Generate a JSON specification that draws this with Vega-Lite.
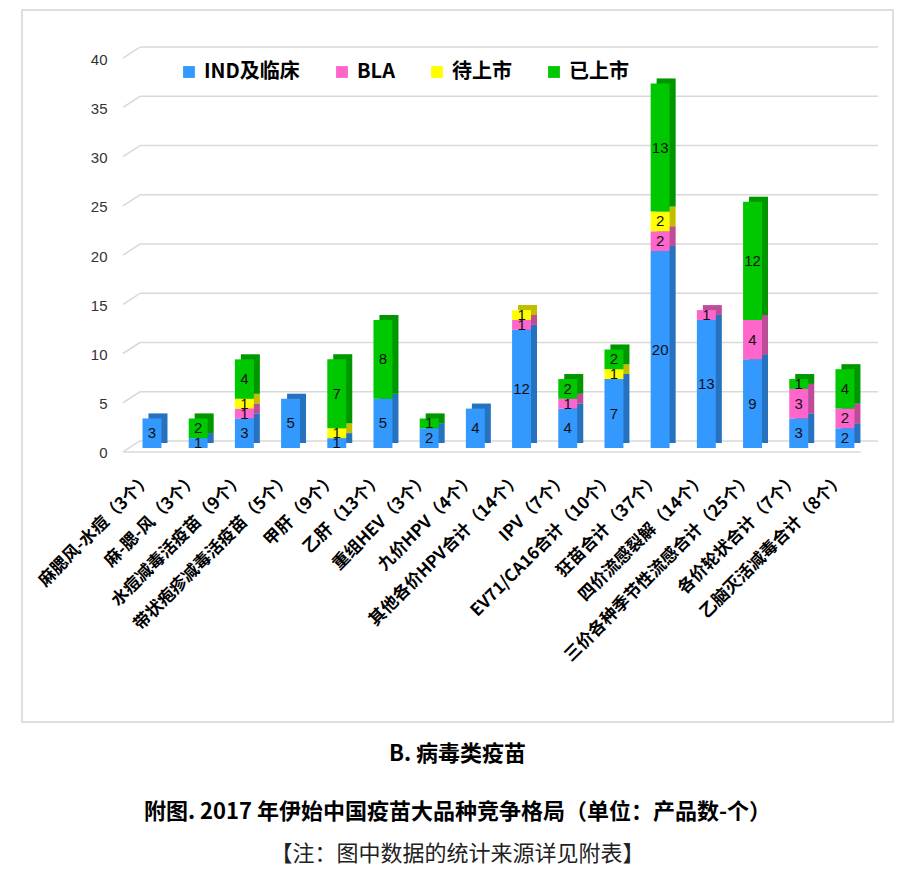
{
  "$schema": "https://vega.github.io/schema/vega-lite/v6.json",
  "width": 871,
  "height": 712,
  "autosize": {"type": "none"},
  "padding": {"left": 22, "top": 10, "right": 20, "bottom": 153},
  "background": "white",
  "config": {
    "view": {"stroke": "#d4d4d4", "strokeWidth": 1.5},
    "font": "Noto Sans CJK SC",
    "legend": {
      "orient": "none",
      "legendX": 157,
      "legendY": 52,
      "direction": "horizontal",
      "symbolType": "square",
      "symbolSize": 140,
      "symbolStrokeWidth": 0,
      "labelFont": "Noto Sans CJK SC",
      "labelFontSize": 20,
      "labelFontWeight": "bold",
      "labelColor": "#000",
      "labelOffset": 5,
      "columnPadding": 32,
      "labelLimit": 300,
      "title": null
    }
  },
  "title": {
    "text": ["B. 病毒类疫苗", "附图. 2017 年伊始中国疫苗大品种竞争格局（单位：产品数-个）"],
    "subtitle": "【注：图中数据的统计来源详见附表】",
    "orient": "bottom",
    "anchor": "middle",
    "offset": 22,
    "font": "Noto Sans CJK SC",
    "fontSize": 22,
    "fontWeight": "bold",
    "color": "#000",
    "lineHeight": 58,
    "subtitleFont": "Noto Sans CJK SC",
    "subtitleFontSize": 22,
    "subtitleFontWeight": "normal",
    "subtitleColor": "#222",
    "subtitlePadding": 20
  },
  "datasets": {
    "bars": [
      {"cat": "麻腮风-水痘（3个）", "s": "IND及临床", "k": 1, "v": 3},
      {"cat": "麻-腮-风（3个）", "s": "IND及临床", "k": 1, "v": 1},
      {"cat": "麻-腮-风（3个）", "s": "已上市", "k": 4, "v": 2},
      {"cat": "水痘减毒活疫苗（9个）", "s": "IND及临床", "k": 1, "v": 3},
      {"cat": "水痘减毒活疫苗（9个）", "s": "BLA", "k": 2, "v": 1},
      {"cat": "水痘减毒活疫苗（9个）", "s": "待上市", "k": 3, "v": 1},
      {"cat": "水痘减毒活疫苗（9个）", "s": "已上市", "k": 4, "v": 4},
      {"cat": "带状疱疹减毒活疫苗（5个）", "s": "IND及临床", "k": 1, "v": 5},
      {"cat": "甲肝（9个）", "s": "IND及临床", "k": 1, "v": 1},
      {"cat": "甲肝（9个）", "s": "待上市", "k": 3, "v": 1},
      {"cat": "甲肝（9个）", "s": "已上市", "k": 4, "v": 7},
      {"cat": "乙肝（13个）", "s": "IND及临床", "k": 1, "v": 5},
      {"cat": "乙肝（13个）", "s": "已上市", "k": 4, "v": 8},
      {"cat": "重组HEV（3个）", "s": "IND及临床", "k": 1, "v": 2},
      {"cat": "重组HEV（3个）", "s": "已上市", "k": 4, "v": 1},
      {"cat": "九价HPV（4个）", "s": "IND及临床", "k": 1, "v": 4},
      {"cat": "其他各价HPV合计（14个）", "s": "IND及临床", "k": 1, "v": 12},
      {"cat": "其他各价HPV合计（14个）", "s": "BLA", "k": 2, "v": 1},
      {"cat": "其他各价HPV合计（14个）", "s": "待上市", "k": 3, "v": 1},
      {"cat": "IPV（7个）", "s": "IND及临床", "k": 1, "v": 4},
      {"cat": "IPV（7个）", "s": "BLA", "k": 2, "v": 1},
      {"cat": "IPV（7个）", "s": "已上市", "k": 4, "v": 2},
      {"cat": "EV71/CA16合计（10个）", "s": "IND及临床", "k": 1, "v": 7},
      {"cat": "EV71/CA16合计（10个）", "s": "待上市", "k": 3, "v": 1},
      {"cat": "EV71/CA16合计（10个）", "s": "已上市", "k": 4, "v": 2},
      {"cat": "狂苗合计（37个）", "s": "IND及临床", "k": 1, "v": 20},
      {"cat": "狂苗合计（37个）", "s": "BLA", "k": 2, "v": 2},
      {"cat": "狂苗合计（37个）", "s": "待上市", "k": 3, "v": 2},
      {"cat": "狂苗合计（37个）", "s": "已上市", "k": 4, "v": 13},
      {"cat": "四价流感裂解（14个）", "s": "IND及临床", "k": 1, "v": 13},
      {"cat": "四价流感裂解（14个）", "s": "BLA", "k": 2, "v": 1},
      {"cat": "三价各种季节性流感合计（25个）", "s": "IND及临床", "k": 1, "v": 9},
      {"cat": "三价各种季节性流感合计（25个）", "s": "BLA", "k": 2, "v": 4},
      {"cat": "三价各种季节性流感合计（25个）", "s": "已上市", "k": 4, "v": 12},
      {"cat": "各价轮状合计（7个）", "s": "IND及临床", "k": 1, "v": 3},
      {"cat": "各价轮状合计（7个）", "s": "BLA", "k": 2, "v": 3},
      {"cat": "各价轮状合计（7个）", "s": "已上市", "k": 4, "v": 1},
      {"cat": "乙脑灭活减毒合计（8个）", "s": "IND及临床", "k": 1, "v": 2},
      {"cat": "乙脑灭活减毒合计（8个）", "s": "BLA", "k": 2, "v": 2},
      {"cat": "乙脑灭活减毒合计（8个）", "s": "已上市", "k": 4, "v": 4}
    ],
    "grid": [
      {"g": 0}, {"g": 5}, {"g": 10}, {"g": 15}, {"g": 20},
      {"g": 25}, {"g": 30}, {"g": 35}, {"g": 40}
    ]
  },
  "layer": [
    {
      "data": {"name": "bars"},
      "mark": {"type": "bar"},
      "encoding": {
        "x": {
          "field": "cat", "type": "nominal", "sort": null, "title": null,
          "scale": {
            "domain": ["麻腮风-水痘（3个）", "麻-腮-风（3个）", "水痘减毒活疫苗（9个）", "带状疱疹减毒活疫苗（5个）", "甲肝（9个）", "乙肝（13个）", "重组HEV（3个）", "九价HPV（4个）", "其他各价HPV合计（14个）", "IPV（7个）", "EV71/CA16合计（10个）", "狂苗合计（37个）", "四价流感裂解（14个）", "三价各种季节性流感合计（25个）", "各价轮状合计（7个）", "乙脑灭活减毒合计（8个）"],
            "range": [120.5, 832.4],
            "paddingInner": 0.59,
            "paddingOuter": 0
          },
          "axis": {
            "orient": "bottom",
            "offset": -252,
            "labelAngle": -45,
            "labelAlign": "right",
            "labelBaseline": "top",
            "labelFont": "Noto Sans CJK SC",
            "labelFontSize": 17,
            "labelFontWeight": "bold",
            "labelColor": "#000",
            "labelPadding": 0,
            "labelOffset": -8,
            "labelOverlap": false,
            "labelLimit": 400,
            "ticks": false,
            "tickSize": 0,
            "domain": false,
            "grid": false,
            "title": null
          }
        },
        "y": {
          "field": "v", "type": "quantitative", "stack": "zero", "title": null,
          "scale": {"domain": [-27.82, 44.47], "nice": false, "zero": false},
          "axis": {
            "orient": "left",
            "offset": -85,
            "values": [0, 5, 10, 15, 20, 25, 30, 35, 40],
            "labelFont": "Liberation Sans",
            "labelFontSize": 15,
            "labelColor": "#333",
            "labelPadding": 0,
            "labelOffset": 5,
            "ticks": false,
            "tickSize": 0,
            "domain": false,
            "grid": false,
            "title": null
          }
        },
        "color": {
          "field": "s", "type": "nominal",
          "scale": {
            "domain": ["IND及临床", "BLA", "待上市", "已上市"],
            "range": ["#3399ff", "#ff66cc", "#ffff00", "#00c800"]
          },
          "legend": {"title": null}
        },
        "order": {"field": "k", "sort": "ascending"},
        "opacity": {"value": 0}
      }
    },
    {
      "data": {"name": "grid"},
      "mark": {"type": "rule", "color": "#d9d9d9", "strokeWidth": 1.5, "xOffset": -12, "x2Offset": 33, "yOffset": -7, "y2Offset": -7},
      "encoding": {
        "x": {"datum": "麻腮风-水痘（3个）", "type": "nominal", "title": null},
        "x2": {"datum": "乙脑灭活减毒合计（8个）"},
        "y": {"field": "g", "type": "quantitative", "title": null}
      }
    },
    {
      "data": {"name": "grid"},
      "mark": {"type": "rule", "color": "#d9d9d9", "strokeWidth": 1.5, "xOffset": -12, "x2Offset": -29, "yOffset": -7, "y2Offset": 4},
      "encoding": {
        "x": {"datum": "麻腮风-水痘（3个）", "type": "nominal", "title": null},
        "x2": {"datum": "麻腮风-水痘（3个）"},
        "y": {"field": "g", "type": "quantitative", "title": null},
        "y2": {"field": "g"}
      }
    },
    {
      "data": {"values": [{"g": 0}]},
      "mark": {"type": "rule", "color": "#d9d9d9", "strokeWidth": 1.5, "xOffset": -29, "x2Offset": 16, "yOffset": 4, "y2Offset": 4},
      "encoding": {
        "x": {"datum": "麻腮风-水痘（3个）", "type": "nominal", "title": null},
        "x2": {"datum": "乙脑灭活减毒合计（8个）"},
        "y": {"field": "g", "type": "quantitative", "title": null}
      }
    },
    {
      "data": {"name": "bars"},
      "mark": {"type": "bar", "xOffset": 6, "x2Offset": 6, "yOffset": -5, "y2Offset": -5},
      "encoding": {
        "x": {"field": "cat", "type": "nominal", "sort": null, "title": null},
        "y": {"field": "v", "type": "quantitative", "stack": "zero", "title": null},
        "color": {"field": "s", "type": "nominal"},
        "order": {"field": "k", "sort": "ascending"}
      }
    },
    {
      "data": {"name": "bars"},
      "mark": {"type": "bar", "color": "#000", "opacity": 0.25, "xOffset": 6, "x2Offset": 6, "yOffset": -5, "y2Offset": -5},
      "encoding": {
        "x": {"field": "cat", "type": "nominal", "sort": null, "title": null},
        "y": {"field": "v", "type": "quantitative", "stack": "zero", "title": null},
        "detail": {"field": "s"},
        "order": {"field": "k", "sort": "ascending"}
      }
    },
    {
      "data": {"name": "bars"},
      "mark": {"type": "bar"},
      "encoding": {
        "x": {"field": "cat", "type": "nominal", "sort": null, "title": null},
        "y": {"field": "v", "type": "quantitative", "stack": "zero", "title": null},
        "color": {"field": "s", "type": "nominal"},
        "order": {"field": "k", "sort": "ascending"}
      }
    },
    {
      "data": {"name": "bars"},
      "mark": {"type": "text", "font": "Liberation Sans", "fontSize": 15, "color": "#111", "baseline": "middle", "align": "center"},
      "encoding": {
        "x": {"field": "cat", "type": "nominal", "sort": null, "title": null},
        "y": {"field": "v", "type": "quantitative", "stack": "zero", "bandPosition": 0.5, "title": null},
        "detail": {"field": "s"},
        "order": {"field": "k", "sort": "ascending"},
        "text": {"field": "v", "type": "quantitative"}
      }
    }
  ]
}
